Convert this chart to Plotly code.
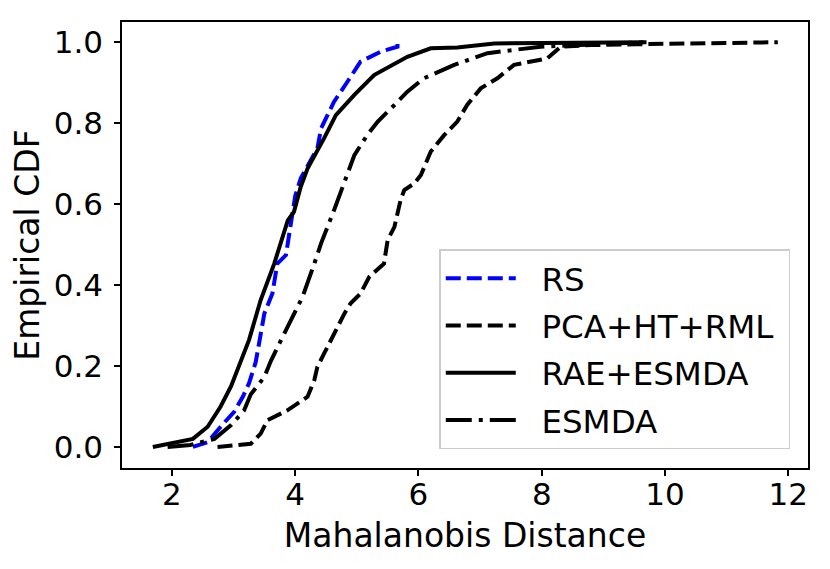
import plotly.graph_objects as go

# Series (Mahalanobis distance vs empirical CDF)
rs_x = [2.34, 2.58, 2.79, 3.01, 3.15, 3.25, 3.36, 3.44, 3.50, 3.63, 3.71, 3.85, 3.93, 4.00, 4.09,
        4.36, 4.42, 4.63, 4.85, 5.06, 5.39, 5.66, 5.66]
rs_y = [0.0, 0.012, 0.05, 0.087, 0.124, 0.157, 0.21, 0.28, 0.33, 0.379, 0.453, 0.474, 0.56, 0.62, 0.664,
        0.738, 0.787, 0.853, 0.903, 0.952, 0.977, 0.989, 1.0]

pca_x = [2.74, 3.28, 3.44, 3.55, 3.88, 4.20, 4.31, 4.36, 4.47, 4.63, 4.80, 4.90, 5.06, 5.20, 5.44,
         5.50, 5.61, 5.71, 5.77, 5.93, 6.04, 6.20, 6.42, 6.63, 6.79, 7.01, 7.28, 7.55, 8.09, 8.31,
         8.8, 9.5, 10.2, 11.0, 11.83]
pca_y = [0.0, 0.008, 0.033, 0.066, 0.091, 0.124, 0.165, 0.198, 0.231, 0.28, 0.33, 0.355, 0.379, 0.42, 0.453,
         0.511, 0.544, 0.61, 0.635, 0.651, 0.672, 0.73, 0.771, 0.804, 0.845, 0.886, 0.911, 0.944, 0.960, 0.989,
         0.993, 0.995, 0.997, 0.998, 1.0]

rae_x = [1.69, 2.0, 2.34, 2.58, 2.79, 2.96, 3.09, 3.25, 3.44, 3.66, 3.88, 3.98, 4.09, 4.20, 4.47,
         4.66, 4.96, 5.28, 5.82, 6.2, 6.63, 7.23, 8.0, 9.0, 9.7]
rae_y = [0.0, 0.01, 0.02, 0.05, 0.10, 0.15, 0.20, 0.264, 0.363, 0.453, 0.56, 0.581, 0.643, 0.688, 0.763,
         0.82, 0.87, 0.919, 0.964, 0.985, 0.987, 0.997, 0.998, 0.999, 1.0]

esmda_x = [1.93, 2.3, 2.69, 2.96, 3.17, 3.28, 3.50, 3.61, 3.77, 3.93, 4.12, 4.31, 4.42, 4.63, 4.96,
           5.17, 5.34, 5.61, 5.82, 6.09, 6.58, 7.12, 7.98, 8.6, 9.2, 9.65]
esmda_y = [0.0, 0.005, 0.02, 0.054, 0.09, 0.13, 0.173, 0.214, 0.264, 0.313, 0.371, 0.453, 0.503, 0.585, 0.721,
           0.771, 0.804, 0.845, 0.878, 0.911, 0.944, 0.973, 0.989, 0.993, 0.996, 1.0]

series_names = ["RS", "PCA+HT+RML", "RAE+ESMDA", "ESMDA"]

x_ticks = [2, 4, 6, 8, 10, 12]
y_ticks = [0.0, 0.2, 0.4, 0.6, 0.8, 1.0]
y_tick_text = ["0.0", "0.2", "0.4", "0.6", "0.8", "1.0"]

FONT = "DejaVu Sans"
LW = 4
NB = "\u00a0"


def legend_label(name):
    label = NB * 2 + name
    if name == "PCA+HT+RML":
        label += NB
    return label


fig = go.Figure()
fig.add_trace(go.Scatter(x=rs_x, y=rs_y, mode="lines", name=legend_label(series_names[0]), legendgroup="a",
                         line=dict(color="#0000ff", width=LW, dash="15px,6px")))
fig.add_trace(go.Scatter(x=pca_x, y=pca_y, mode="lines", name=legend_label(series_names[1]), legendgroup="b",
                         line=dict(color="black", width=LW, dash="15px,6px")))
fig.add_trace(go.Scatter(x=rae_x, y=rae_y, mode="lines", name=legend_label(series_names[2]), legendgroup="c",
                         line=dict(color="black", width=LW)))
fig.add_trace(go.Scatter(x=esmda_x, y=esmda_y, mode="lines", name=legend_label(series_names[3]), legendgroup="d",
                         line=dict(color="black", width=LW, dash="26px,7px,4px,7px")))

axis_common = dict(showgrid=False, zeroline=False, showline=True, linecolor="black",
                   linewidth=1.5, mirror=True, ticks="outside", ticklen=6, tickwidth=1.5,
                   tickcolor="black", automargin=False,
                   tickfont=dict(family=FONT, size=31, color="black"))

fig.update_xaxes(range=[1.19, 12.32], tickvals=x_ticks, ticklabelstandoff=-8,
                 title=dict(text="Mahalanobis Distance", font=dict(family=FONT, size=33, color="black"),
                            standoff=13),
                 **axis_common)
fig.update_yaxes(range=[-0.052, 1.05], tickvals=y_ticks, ticktext=y_tick_text, ticklabelstandoff=5,
                 title=dict(text="Empirical CDF", font=dict(family=FONT, size=33, color="black"),
                            standoff=5),
                 **axis_common)

fig.update_layout(
    width=830, height=569,
    margin=dict(l=114, r=30, t=14, b=109),
    paper_bgcolor="white", plot_bgcolor="white",
    font=dict(family=FONT, color="black"),
    legend=dict(x=0.4625, y=0.491, xanchor="left", yanchor="top",
                bgcolor="white", bordercolor="#cccccc", borderwidth=1.5,
                font=dict(family=FONT, size=32.5, color="black"),
                itemwidth=70, traceorder="grouped", tracegroupgap=2),
    showlegend=True,
)

fig.write_html("out.html")
